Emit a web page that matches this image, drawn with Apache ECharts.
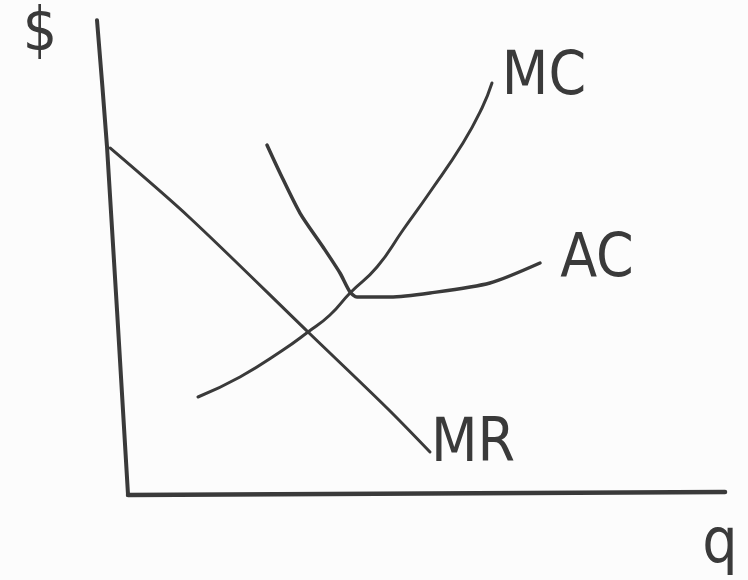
<!DOCTYPE html>
<html>
<head>
<meta charset="utf-8">
<script src="https://cdn.jsdelivr.net/npm/echarts@6/dist/echarts.min.js"></script>
<style>
html,body{margin:0;padding:0;background:#fcfcfc;}
#c{width:748px;height:580px;}
</style>
</head>
<body>
<div id="c"></div>
<script>
// Axes drawn as hand-sketched lines (q on x, $ on y)
var priceAxisLine = [[-0.55, 9.85], [-0.383, 7.21], [-0.033, -0.04]];
var quantityAxisLine = [[-0.033, -0.04], [9.917, 0.02]];

// Curves [q, $]
var mcCurve = [[1.133, 2.0], [1.833, 2.417], [2.55, 2.979], [2.967, 3.354], [3.333, 3.708],
  [3.667, 4.167], [4.117, 4.708], [4.55, 5.479], [5.0, 6.271], [5.55, 7.292], [5.867, 8.021], [6.033, 8.542]];
var acCurve = [[2.283, 7.25], [2.5, 6.667], [2.833, 5.833], [3.217, 5.125], [3.5, 4.583],
  [3.667, 4.188], [3.783, 4.083], [4.333, 4.083], [5.0, 4.167], [6.0, 4.375], [6.833, 4.792]];
var mrCurve = [[-0.333, 7.188], [1.0, 5.729], [2.967, 3.354], [4.283, 1.771], [5.0, 0.854]];

// Text labels and where they sit [q, $]
var labelNames = ['MC', 'AC', 'MR', '$', 'q'];
var labelPos = [[6.9, 8.64], [7.783, 4.85], [5.717, 1.0], [-1.5, 9.55], [9.833, -1.1]];
var labelSizes = [60, 60, 60, 60, 62];

var ink = '#3a3a3a';
var fontFam = "'Liberation Sans Narrow', 'DejaVu Sans Condensed', 'Liberation Sans', sans-serif";

var chart = echarts.init(document.getElementById('c'), null, {renderer: 'canvas'});

function lineSeries(name, data, width, smooth) {
  return {
    name: name, type: 'line', data: data, showSymbol: false, smooth: smooth,
    clip: false, silent: true,
    lineStyle: {color: ink, width: width, cap: 'round', join: 'round'}
  };
}

chart.setOption({
  backgroundColor: '#fcfcfc',
  animation: false,
  grid: {left: 10, right: 0, top: 13, bottom: 15},
  xAxis: {type: 'value', min: -2, max: 10.3, show: false},
  yAxis: {type: 'value', min: -1.5, max: 10, show: false},
  series: [
    lineSeries('priceAxis', priceAxisLine, 4, 0.2),
    lineSeries('quantityAxis', quantityAxisLine, 4.5, false),
    lineSeries('MR', mrCurve, 3, 0.3),
    lineSeries('MC', mcCurve, 3, 0.5),
    lineSeries('AC', acCurve, 3.5, 0.25),
    {
      type: 'scatter', symbolSize: 0, clip: false, silent: true,
      itemStyle: {opacity: 1},
      data: labelNames.map(function (n, i) {
        return {
          name: n, value: labelPos[i],
          label: {
            show: true, position: 'inside', formatter: n,
            color: ink, fontFamily: fontFam, fontSize: labelSizes[i], fontWeight: 'normal',
            align: 'center', verticalAlign: 'middle'
          }
        };
      })
    }
  ]
});
</script>
</body>
</html>
